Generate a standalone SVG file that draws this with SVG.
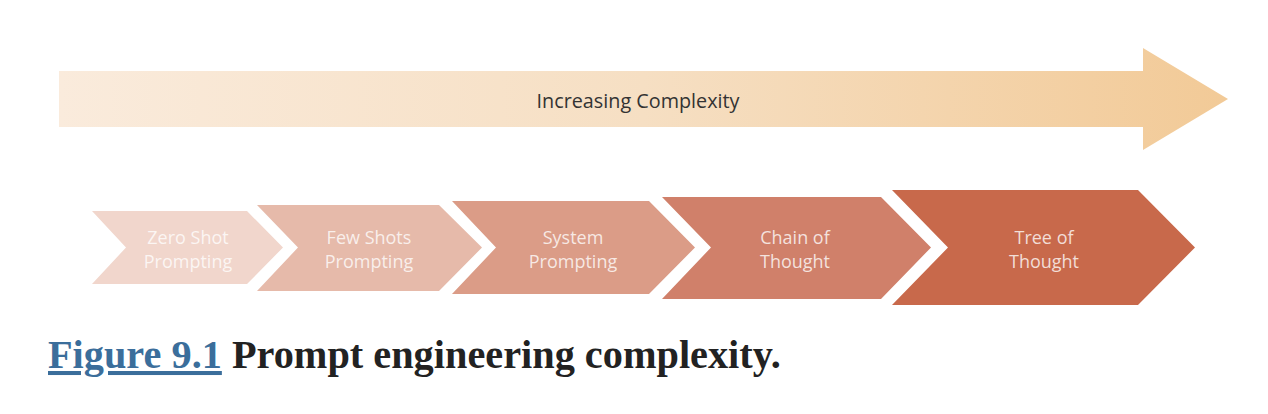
<svg xmlns="http://www.w3.org/2000/svg" width="1268" height="414" viewBox="0 0 1268 414">
  <defs>
    <linearGradient id="arrowGrad" x1="59" y1="0" x2="1228" y2="0" gradientUnits="userSpaceOnUse">
      <stop offset="0" stop-color="#FAEBDC"/>
      <stop offset="0.5" stop-color="#F6DFC3"/>
      <stop offset="1" stop-color="#F2CA97"/>
    </linearGradient>
    <style>
      .lbl { font-family: "Open Sans", "Noto Sans", sans-serif; font-size: 18px; fill: #FFFFFF; fill-opacity: 0.78; text-anchor: middle; }
      .main { font-family: "Open Sans", "Noto Sans", sans-serif; font-size: 19.8px; fill: #333333; text-anchor: middle; }
      .cap { font-family: "Liberation Serif", "Times New Roman", serif; font-size: 40.3px; font-weight: bold; }
    </style>
  </defs>
  <rect width="1268" height="414" fill="#FFFFFF"/>

  <g id="complexity-arrow">
    <polygon points="59,71 1143,71 1143,48 1228,99 1143,150 1143,127 59,127" fill="url(#arrowGrad)"/>
    <text class="main" x="638" y="108">Increasing Complexity</text>
  </g>

  <g id="zero-shot">
    <polygon points="92,211 247,211 283,247.5 247,284 92,284 126,247.5" fill="#F1D6CC"/>
    <text class="lbl" x="188" y="244">Zero Shot</text>
    <text class="lbl" x="188" y="268">Prompting</text>
  </g>

  <g id="few-shots">
    <polygon points="257,205 439,205 482,247.5 439,291 257,291 298,247.5" fill="#E6BAAA"/>
    <text class="lbl" x="369" y="244">Few Shots</text>
    <text class="lbl" x="369" y="268">Prompting</text>
  </g>

  <g id="system">
    <polygon points="452,201 649,201 695,247.5 649,294 452,294 496,247.5" fill="#DB9C87"/>
    <text class="lbl" x="573" y="244">System</text>
    <text class="lbl" x="573" y="268">Prompting</text>
  </g>

  <g id="chain-of-thought">
    <polygon points="662,197 881,197 931,247.5 881,299 662,299 711,247.5" fill="#D0806A"/>
    <text class="lbl" x="795" y="244">Chain of</text>
    <text class="lbl" x="795" y="268">Thought</text>
  </g>

  <g id="tree-of-thought">
    <polygon points="892,190 1138,190 1195,247.5 1138,305 892,305 948,247.5" fill="#C8694B"/>
    <text class="lbl" x="1044" y="244">Tree of</text>
    <text class="lbl" x="1044" y="268">Thought</text>
  </g>

  <g id="connectors"></g>

  <g id="caption">
    <text class="cap" x="48" y="368"><tspan fill="#3B6E9B" text-decoration="underline">Figure 9.1</tspan><tspan fill="#222222"> Prompt engineering complexity.</tspan></text>
  </g>
</svg>
